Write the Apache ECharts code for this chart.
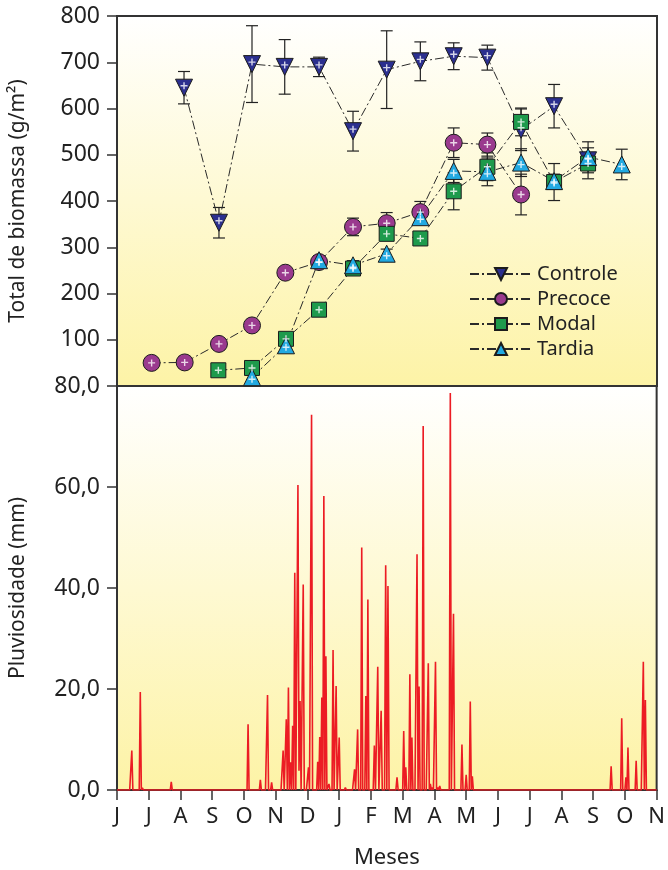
<!DOCTYPE html>
<html>
<head>
<meta charset="utf-8">
<script src="https://cdn.jsdelivr.net/npm/echarts@6/dist/echarts.min.js"></script>
<style>
  html, body { margin: 0; padding: 0; background: #ffffff; }
  #chart { width: 668px; height: 870px; }
</style>
</head>
<body>
<div id="chart"></div>
<script>
// Month axis: labels at the first day of each month, June to November of the next year
const monthLabels = ['J','J','A','S','O','N','D','J','F','M','A','M','J','J','A','S','O','N'];
const monthLengths = [30,31,31,30,31,30,31,31,28,31,30,31,30,31,31,30,31];

// Biomass sampling dates (position in months from June 1) and values, g/m²
const controleX   = [2.11, 3.21, 4.25, 5.28, 6.36, 7.43, 8.49, 9.55, 10.6, 11.66, 12.72, 13.76, 14.83];
const controleY   = [645, 353, 696, 690, 690, 551, 684, 702, 713, 710, 554, 605, 488];
const controleErr = [35, 33, 83, 59, 21, 43, 84, 42, 29, 27, 45, 47, 40];

const precoceX   = [1.09, 2.13, 3.21, 4.25, 5.30, 6.36, 7.43, 8.49, 9.55, 10.6, 11.66, 12.72];
const precoceY   = [50, 51, 91, 131, 245, 268, 344, 352, 376, 526, 522, 414];
const precoceErr = [4, 13, 6, 8, 8, 8, 19, 23, 23, 32, 25, 44];

const modalX   = [3.19, 4.25, 5.32, 6.36, 7.43, 8.49, 9.55, 10.6, 11.66, 12.72, 13.76, 14.83];
const modalY   = [34, 39, 102, 165, 254, 329, 319, 421, 474, 571, 441, 481];
const modalErr = [5, 5, 10, 12, 8, 10, 8, 40, 30, 30, 40, 20];

const tardiaX   = [4.25, 5.32, 6.36, 7.43, 8.49, 9.55, 10.6, 11.66, 12.72, 13.76, 14.83, 15.89];
const tardiaY   = [19, 88, 272, 261, 286, 365, 465, 463, 483, 443, 495, 479];
const tardiaErr = [5, 8, 10, 10, 10, 15, 25, 30, 30, 15, 20, 33];

// Daily rainfall: day index counted from June 1, and millimetres; other days are dry
const rainDays = [14, 22, 24, 52, 126, 138, 145, 149, 160, 163, 165, 167, 169, 171, 174, 175, 176, 179, 184, 187,
                  193, 195, 197, 199, 201, 204, 208, 211, 214, 220, 229, 232, 236, 240, 242, 248, 251, 254, 258, 260,
                  268, 274, 276, 280, 282, 287, 289, 293, 298, 300, 302, 305, 307, 309, 319, 322, 330, 334, 338, 340,
                  466, 474, 484, 488, 490, 498, 505, 507];
const rainMm   = [7.8, 19.4, 0.4, 1.6, 13.0, 2.0, 18.8, 1.5, 7.8, 14.0, 20.3, 5.5, 12.7, 43.0, 60.4, 3.8, 17.6, 40.7, 4.5, 74.3,
                  5.6, 10.5, 18.3, 58.2, 26.5, 1.2, 27.7, 20.6, 10.4, 0.5, 4.1, 12.0, 48.0, 18.6, 37.7, 8.8, 24.4, 15.7, 44.5, 40.4,
                  2.5, 11.7, 4.5, 22.9, 10.4, 46.7, 20.5, 72.1, 25.1, 1.2, 0.5, 25.4, 0.5, 0.8, 78.6, 34.9, 9.0, 3.0, 17.5, 2.7,
                  0.3, 4.7, 14.2, 2.5, 8.4, 5.8, 25.4, 17.8];

// Convert a day index into a fractional month position on the axis
function dayToMonth(d) {
  let m = 0, start = 0;
  while (m < monthLengths.length && d >= start + monthLengths[m]) { start += monthLengths[m]; m++; }
  if (m >= monthLengths.length) return monthLengths.length;
  return m + (d - start) / monthLengths[m];
}

const totalDays = monthLengths.reduce((a, b) => a + b, 0);
const rainByDay = {};
rainDays.forEach((d, i) => { rainByDay[d] = rainMm[i]; });
const rainSeries = [];
for (let d = 0; d <= totalDays; d++) rainSeries.push([dayToMonth(d), rainByDay[d] || 0]);

const FONT = '"Noto Sans", "DejaVu Sans", sans-serif';
const AXIS_COLOR = '#333333';
const dashDot = [9, 3, 2, 3];
const plusPath = 'path://M4,0 L6,0 L6,4 L10,4 L10,6 L6,6 L6,10 L4,10 L4,6 L0,6 L0,4 L4,4 Z';

const groups = [
  { name: 'Controle', x: controleX, y: controleY, err: controleErr, symbol: 'triangle', rotate: 180, size: 17, color: '#2B2F8F' },
  { name: 'Precoce',  x: precoceX,  y: precoceY,  err: precoceErr,  symbol: 'circle',   rotate: 0,   size: 17, color: '#9A3A8E' },
  { name: 'Modal',    x: modalX,    y: modalY,    err: modalErr,    symbol: 'rect',     rotate: 0,   size: 15, color: '#1E9A4C' },
  { name: 'Tardia',   x: tardiaX,   y: tardiaY,   err: tardiaErr,   symbol: 'triangle', rotate: 0,   size: 17, color: '#22A9E1' }
];

function panelFill() {
  return new echarts.graphic.LinearGradient(0, 0, 0, 1, [
    { offset: 0, color: '#FFFFFF' },
    { offset: 1, color: '#FDF3A6' }
  ]);
}

function errorBarRender(params, api) {
  const x = api.value(0);
  const top = api.coord([x, api.value(2)]);
  const bot = api.coord([x, api.value(1)]);
  const half = 6;
  const style = { stroke: '#222', lineWidth: 1.2 };
  return {
    type: 'group',
    children: [
      { type: 'line', shape: { x1: top[0], y1: top[1], x2: bot[0], y2: bot[1] }, style: style },
      { type: 'line', shape: { x1: top[0] - half, y1: top[1], x2: top[0] + half, y2: top[1] }, style: style },
      { type: 'line', shape: { x1: bot[0] - half, y1: bot[1], x2: bot[0] + half, y2: bot[1] }, style: style }
    ]
  };
}

const series = [];
groups.forEach(g => {
  series.push({
    name: g.name + ' erro',
    type: 'custom',
    xAxisIndex: 0, yAxisIndex: 0,
    renderItem: errorBarRender,
    encode: { x: 0, y: [1, 2] },
    data: g.x.map((xv, i) => [xv, g.y[i] - g.err[i], g.y[i] + g.err[i]]),
    z: 2,
    silent: true
  });
});
groups.forEach(g => {
  series.push({
    name: g.name,
    type: 'line',
    xAxisIndex: 0, yAxisIndex: 0,
    data: g.x.map((xv, i) => [xv, g.y[i]]),
    symbol: g.symbol,
    symbolRotate: g.rotate,
    symbolSize: g.size,
    showAllSymbol: true,
    lineStyle: { color: '#2a2a2a', width: 1, type: dashDot },
    itemStyle: { color: g.color, borderColor: '#1c1c1c', borderWidth: 1 },
    z: 3
  });
});
groups.forEach(g => {
  series.push({
    name: g.name + ' marca',
    type: 'scatter',
    xAxisIndex: 0, yAxisIndex: 0,
    data: g.x.map((xv, i) => [xv, g.y[i]]),
    symbol: plusPath,
    symbolSize: 7,
    symbolOffset: [0, g.symbol === 'triangle' ? (g.rotate ? -2 : 2) : 0],
    itemStyle: { color: '#ffffff' },
    silent: true,
    z: 4
  });
});
series.push({
  name: 'Pluviosidade',
  type: 'line',
  xAxisIndex: 1, yAxisIndex: 1,
  data: rainSeries,
  showSymbol: false,
  lineStyle: { color: '#EC1C24', width: 1.6 },
  z: 2
});

const chart = echarts.init(document.getElementById('chart'), null, { renderer: 'canvas' });
chart.setOption({
  animation: false,
  backgroundColor: '#ffffff',
  textStyle: { fontFamily: FONT },
  grid: [
    { left: 116, top: 16, width: 541, height: 370, show: true, backgroundColor: panelFill(), borderColor: AXIS_COLOR, borderWidth: 2 },
    { left: 116, top: 386, width: 541, height: 405, show: true, backgroundColor: panelFill(), borderColor: AXIS_COLOR, borderWidth: 2 }
  ],
  legend: {
    data: groups.map(g => g.name),
    orient: 'vertical',
    left: 464, top: 259,
    itemWidth: 62, itemHeight: 15, itemGap: 5,
    textStyle: { fontFamily: FONT, fontSize: 20, color: '#222' },
    selectedMode: false
  },
  xAxis: [
    {
      type: 'value', gridIndex: 0, min: 0, max: 17, interval: 1,
      axisLine: { show: true, lineStyle: { color: AXIS_COLOR, width: 2 } },
      axisTick: { show: false }, axisLabel: { show: false }, splitLine: { show: false }
    },
    {
      type: 'value', gridIndex: 1, min: 0, max: 17, interval: 1,
      name: 'Meses', nameLocation: 'middle', nameGap: 57,
      nameTextStyle: { fontFamily: FONT, fontSize: 22, color: '#222' },
      axisLine: { show: true, onZero: false, lineStyle: { color: AXIS_COLOR, width: 2 } },
      axisTick: { show: true, inside: false, length: 10, lineStyle: { color: AXIS_COLOR, width: 1.5 } },
      axisLabel: { fontFamily: FONT, fontSize: 22, color: '#222', margin: 16, formatter: v => monthLabels[Math.round(v)] || '' },
      splitLine: { show: false }
    }
  ],
  yAxis: [
    {
      type: 'value', gridIndex: 0, min: 0, max: 800, interval: 100,
      name: 'Total de biomassa (g/m²)', nameLocation: 'middle', nameGap: 88,
      nameTextStyle: { fontFamily: FONT, fontSize: 21, color: '#222' },
      axisLine: { show: true, lineStyle: { color: AXIS_COLOR, width: 2 } },
      axisTick: { show: true, length: 10, lineStyle: { color: AXIS_COLOR, width: 1.5 } },
      axisLabel: { fontFamily: FONT, fontSize: 23, color: '#222', margin: 17, formatter: v => (v === 0 ? '' : String(v)) },
      splitLine: { show: false }
    },
    {
      type: 'value', gridIndex: 1, min: 0, max: 80, interval: 20,
      name: 'Pluviosidade (mm)', nameLocation: 'middle', nameGap: 88,
      nameTextStyle: { fontFamily: FONT, fontSize: 21, color: '#222' },
      axisLine: { show: true, lineStyle: { color: AXIS_COLOR, width: 2 } },
      axisTick: { show: true, length: 10, lineStyle: { color: AXIS_COLOR, width: 1.5 } },
      axisLabel: { fontFamily: FONT, fontSize: 23, color: '#222', margin: 17, formatter: v => v.toFixed(1).replace('.', ',') },
      splitLine: { show: false }
    }
  ],
  series: series
});
</script>
</body>
</html>
